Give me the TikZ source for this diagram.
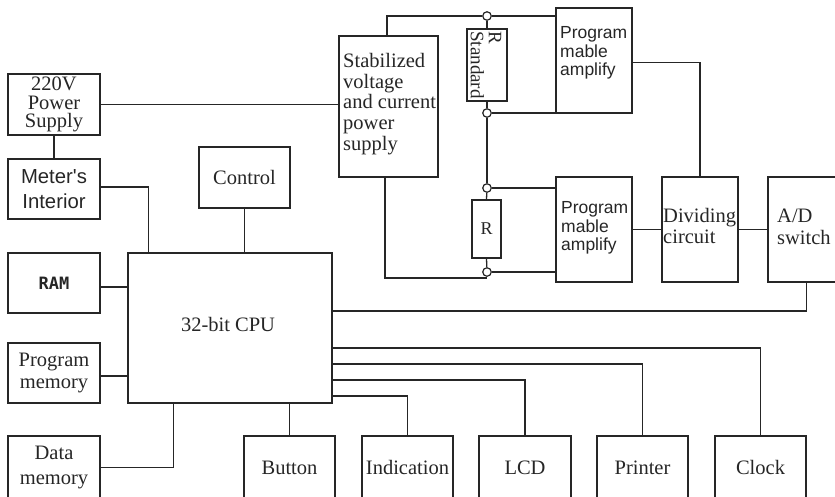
\documentclass[tikz,border=0pt]{standalone}
\usepackage{fontspec}
\setmainfont{Liberation Serif}
\newfontfamily\sansf{Liberation Sans}
\newfontfamily\monof{DejaVu Sans Mono}
\usetikzlibrary{positioning}
\definecolor{ink}{HTML}{262626}
\begin{document}
\begin{tikzpicture}[x=1pt,y=-1pt,
  every node/.style={text=ink},
  box/.style={draw=ink, line width=1.3pt, inner sep=0pt, rectangle},
  serif/.style={font=\fontsize{20.5}{21}\selectfont},
  sans/.style={font=\sansf\fontsize{17.5}{18.5}\selectfont},
  txt/.style={inner sep=0pt, align=left, anchor=west},
  wire/.style={draw=ink, line width=1.3pt},
  term/.style={circle, draw=ink, line width=1.2pt, fill=white, inner sep=0pt, minimum size=8.5pt}]
\useasboundingbox (0,0) rectangle (835,496);

% left column
\node[box, minimum width=92, minimum height=61, align=center, font=\fontsize{20.5}{18.5}\selectfont] (pwr) at (54,104.5) {220V\\Power\\Supply};
\node[box, minimum width=92, minimum height=60, align=center, font=\sansf\fontsize{20.3}{24.5}\selectfont] (meter) at (54,189) {Meter's\\Interior};
\node[box, minimum width=92, minimum height=60, font=\monof\bfseries\fontsize{17}{18}\selectfont] (ram) at (54,283) {RAM};
\node[box, minimum width=92, minimum height=60, align=center, font=\fontsize{20.5}{22}\selectfont] (pmem) at (54,373) {Program\\memory};
\node[box, minimum width=92, minimum height=63, align=center, font=\fontsize{20.5}{25.5}\selectfont] (dmem) at (54,467.5) {Data\\memory};

% CPU and control
\node[box, minimum width=204, minimum height=150] (cpu) at (230,328) {};
\node[serif, inner sep=0pt] (cputxt) at (228,324) {32-bit CPU};
\node[box, serif, minimum width=91, minimum height=61] (ctrl) at (244.5,177.5) {Control};

% bottom row
\node[box, serif, minimum width=91, minimum height=63] (button) at (289.5,467.5) {Button};
\node[box, serif, minimum width=91, minimum height=63] (ind) at (407.5,467.5) {Indication};
\node[box, serif, minimum width=92, minimum height=63] (lcd) at (525,467.5) {LCD};
\node[box, serif, minimum width=91, minimum height=63] (printer) at (642.5,467.5) {Printer};
\node[box, serif, minimum width=91, minimum height=63] (clock) at (760.5,467.5) {Clock};

% measuring part
\node[box, minimum width=99, minimum height=141] (stab) at (388.5,106.5) {};
\node[txt, font=\fontsize{20.5}{20.7}\selectfont] (stabtxt) at (343,104) {Stabilized\\voltage\\and current\\power\\supply};
\node[box, minimum width=40, minimum height=72] (rstd) at (487,65) {};
\node[inner sep=0pt, rotate=-90, align=left, font=\fontsize{19}{18}\selectfont] (rstdtxt) at (486,65) {R\\Standard};
\node[box, minimum width=76, minimum height=105] (amp1) at (594,60.5) {};
\node[txt, sans] (amp1txt) at (560,53) {Program\\mable\\amplify};
\node[box, minimum width=29, minimum height=58, font=\fontsize{18}{19}\selectfont] (rr) at (486.5,229) {R};
\node[box, minimum width=76, minimum height=105] (amp2) at (594,229.5) {};
\node[txt, sans] (amp2txt) at (561,228) {Program\\mable\\amplify};
\node[box, minimum width=76, minimum height=105] (div) at (700,229.5) {};
\node[txt, font=\fontsize{20.5}{21.5}\selectfont] (divtxt) at (663,226) {Dividing\\circuit};
\node[box, minimum width=77, minimum height=105] (ad) at (806.5,229.5) {};
\node[txt, font=\fontsize{20.5}{21.5}\selectfont] (adtxt) at (777,227) {A/D\\switch};

% terminals
\node[term] (c1) at (487,16) {};
\node[term] (c2) at (487,113) {};
\node[term] (c3) at (487,188) {};
\node[term] (c4) at (487,272) {};

% connectors, left side
\draw[wire] (pwr) -- (meter);
\draw[wire] (pwr.east) -- (pwr.east -| stab.west);
\draw[wire] ([yshift=2pt]meter.east) -| ([xshift=21pt]cpu.north west);
\draw[wire] (ctrl.south) -- (ctrl.south |- cpu.north);
\draw[wire] ([yshift=-4pt]ram.east) -- ([yshift=-4pt]ram.east -| cpu.west);
\draw[wire] ([yshift=-3pt]pmem.east) -- ([yshift=-3pt]pmem.east -| cpu.west);
\draw[wire] (dmem.east) -| ([xshift=46pt]cpu.south west);

% connectors, CPU outputs
\draw[wire] (button.north) -- (button.north |- cpu.south);
\draw[wire] ([yshift=-68pt]cpu.east) -| (ind.north);
\draw[wire] ([yshift=-52pt]cpu.east) -| (lcd.north);
\draw[wire] ([yshift=-36pt]cpu.east) -| (printer.north);
\draw[wire] ([yshift=-20pt]cpu.east) -| (clock.north);
\draw[wire] ([yshift=17pt]cpu.east) -| (ad.south);

% measuring chain
\draw[wire] (amp2.east) -- (div.west);
\draw[wire] (div.east) -- (ad.west);
\draw[wire] ([yshift=-2pt]amp1.east) -| (div.north);
\draw[wire] ([xshift=-1.5pt]stab.north) |- (c1);
\draw[wire] (c1) -- (c1 -| amp1.west);
\draw[wire] (c1) -- (rstd.north);
\draw[wire] (rstd.south) -- (c2);
\draw[wire] (c2) -- (c2 -| amp1.west);
\draw[wire] (c2) -- (c3);
\draw[wire] (c3) -- (rr.north);
\draw[wire] (rr.south) -- (c4);
\draw[wire] (c3) -- (c3 -| amp2.west);
\draw[wire] (c4) -- (c4 -| amp2.west);
\draw[wire] ([xshift=-3.5pt]stab.south) |- ([yshift=-1pt]c4.south);
\end{tikzpicture}
\end{document}
